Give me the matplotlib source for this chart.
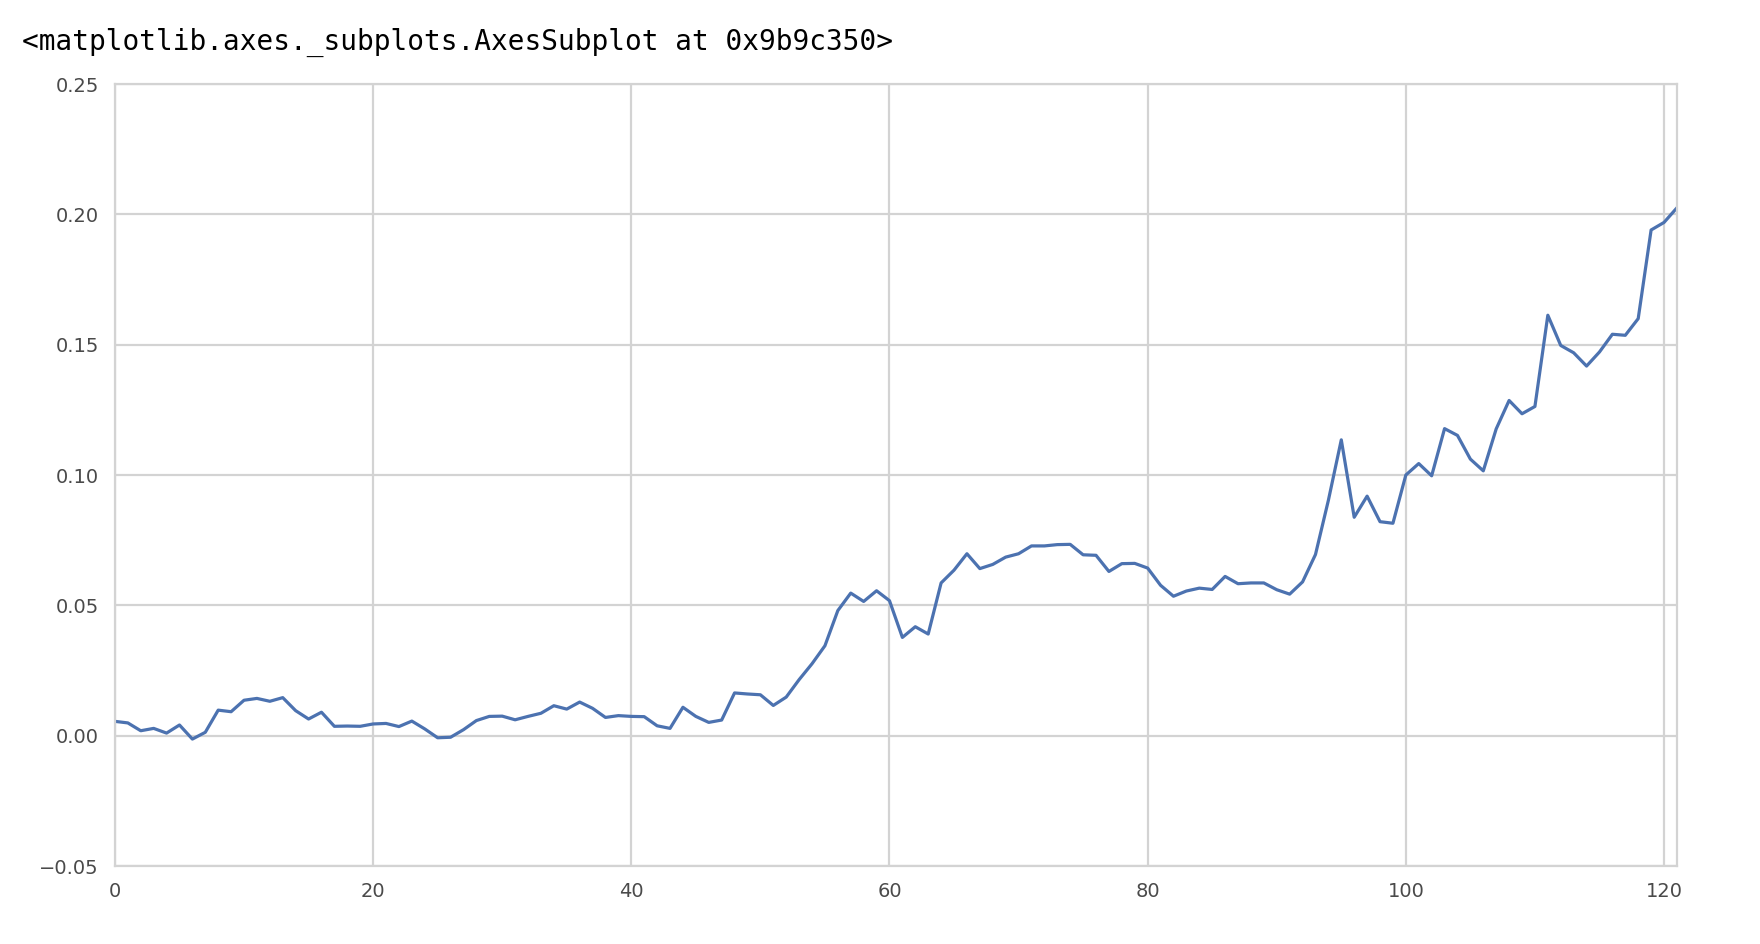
import numpy as np
import matplotlib
matplotlib.use("Agg")
import matplotlib.pyplot as plt

# values, one per integer index 0..121
values = [
    0.0055, 0.0049, 0.0019, 0.0028, 0.0010, 0.0041, -0.0013, 0.0013, 0.0098, 0.0092,
    0.0136, 0.0143, 0.0132, 0.0146, 0.0096, 0.0064, 0.0090, 0.0036, 0.0037, 0.0036,
    0.0045, 0.0047, 0.0035, 0.0056, 0.0026, -0.0008, -0.0006, 0.0023, 0.0058, 0.0074,
    0.0075, 0.0061, 0.0074, 0.0086, 0.0115, 0.0102, 0.0129, 0.0105, 0.0070, 0.0077,
    0.0074, 0.0073, 0.0038, 0.0028, 0.0109, 0.0074, 0.0051, 0.0060, 0.0164, 0.0160,
    0.0157, 0.0116, 0.0148, 0.0215, 0.0276, 0.0345, 0.0480, 0.0547, 0.0515, 0.0556,
    0.0518, 0.0377, 0.0418, 0.0390, 0.0586, 0.0635, 0.0698, 0.0641, 0.0657, 0.0685,
    0.0698, 0.0728, 0.0728, 0.0733, 0.0734, 0.0694, 0.0692, 0.0630, 0.0660, 0.0661,
    0.0643, 0.0577, 0.0535, 0.0555, 0.0566, 0.0561, 0.0611, 0.0583, 0.0586, 0.0586,
    0.0560, 0.0543, 0.0590, 0.0695, 0.0903, 0.1135, 0.0838, 0.0919, 0.0821, 0.0815,
    0.1000, 0.1044, 0.0997, 0.1178, 0.1152, 0.1061, 0.1016, 0.1177, 0.1286, 0.1235,
    0.1263, 0.1613, 0.1497, 0.1469, 0.1418, 0.1472, 0.1540, 0.1536, 0.1600, 0.1940,
    0.1969, 0.2025,
]
x = np.arange(len(values))

x_ticks = [0, 20, 40, 60, 80, 100, 120]
y_ticks = [-0.05, 0.00, 0.05, 0.10, 0.15, 0.20, 0.25]
header = "<matplotlib.axes._subplots.AxesSubplot at 0x9b9c350>"

grid_col = "#d3d3d3"
line_col = "#4C72B0"

fig = plt.figure(figsize=(17.6, 9.44), dpi=100)
fig.text(0.0125, 0.955, header, family="DejaVu Sans Mono", fontsize=20,
         va="center", ha="left", color="black")

ax = fig.add_axes([0.0653, 0.0826, 0.8875, 0.8284])
ax.plot(x, values, color=line_col, lw=2.3)

ax.set_xlim(0, 121)
ax.set_ylim(-0.05, 0.25)
ax.set_xticks(x_ticks)
ax.set_yticks(y_ticks)
ax.set_yticklabels(["\u22120.05"] + [f"{v:.2f}" for v in y_ticks[1:]])

ax.grid(True, color=grid_col, lw=1.6)
ax.set_axisbelow(True)
for s in ax.spines.values():
    s.set_color(grid_col)
    s.set_linewidth(1.6)
ax.tick_params(length=0, pad=11.5, labelsize=14, labelcolor="#4a4a4a")
for lab in ax.get_xticklabels() + ax.get_yticklabels():
    lab.set_family("DejaVu Sans")

fig.savefig("out.png", dpi=100, facecolor="white")
